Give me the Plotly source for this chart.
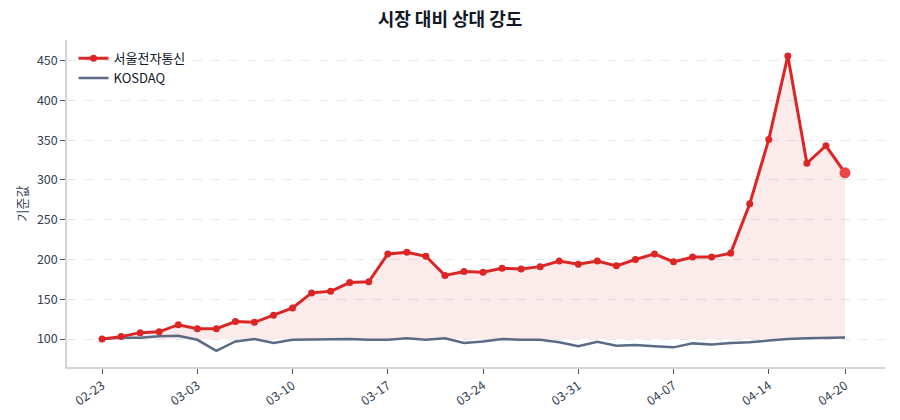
import plotly.graph_objects as go

dates = ["02-23","02-24","02-25","02-26","02-27","03-03","03-04","03-05","03-06","03-09",
         "03-10","03-11","03-12","03-13","03-16","03-17","03-18","03-19","03-20","03-23",
         "03-24","03-25","03-26","03-27","03-30","03-31","04-01","04-02","04-03","04-06",
         "04-07","04-08","04-09","04-10","04-13","04-14","04-15","04-16","04-17","04-20"]
stock = [100,103,108,109,118,113,113,122,121,130,
         139,158,160,171,172,207,209,204,180,185,
         184,189,188,191,198,194,198,192,200,207,
         197,203,203,208,270,351,456,321,343,309]
kosdaq = [100,101.5,101.5,103.5,104,99,85,97,100,95,
          99,99,99.6,100,99,99,101,99,101,95,
          97,100,99,99,96,91,96.5,91.5,92.4,91,
          89.5,94.5,93,95,96,98,100,101,101.7,102]
tick_labels = ["02-23","03-03","03-10","03-17","03-24","03-31","04-07","04-14","04-20"]
baseline = [100] * len(dates)

idx = list(range(len(dates)))
tickvals = [dates.index(t) for t in tick_labels]

RED = "#dc2626"
GREY = "#5b6b85"
FONT = "Noto Sans CJK KR"

fig = go.Figure()
fig.add_trace(go.Scatter(x=idx, y=baseline, mode="lines", line=dict(width=0),
                         showlegend=False, hoverinfo="skip"))
fig.add_trace(go.Scatter(x=idx, y=stock, mode="lines", line=dict(width=1, color="rgba(220,38,38,0.08)"),
                         fill="tonexty", fillcolor="rgba(220,38,38,0.09)",
                         showlegend=False, hoverinfo="skip"))
fig.add_trace(go.Scatter(x=idx, y=kosdaq, mode="lines", name="KOSDAQ",
                         line=dict(color=GREY, width=2.5)))
fig.add_trace(go.Scatter(x=idx, y=stock, mode="lines+markers", name="서울전자통신",
                         line=dict(color=RED, width=3),
                         marker=dict(size=7, color=RED)))
fig.add_trace(go.Scatter(x=[idx[-1]], y=[stock[-1]], mode="markers", showlegend=False,
                         marker=dict(size=11, color="#ef4444")))

fig.update_layout(
    width=900, height=420,
    margin=dict(l=67, r=15, t=40, b=53),
    paper_bgcolor="white", plot_bgcolor="white",
    font=dict(family=FONT, size=12, color="#334155"),
    title=dict(text="<b>시장 대비 상대 강도</b>", x=0.5, xanchor="center", y=0.952, yanchor="middle",
               font=dict(size=18, color="#111827", family=FONT)),
    legend=dict(x=0.008, y=0.99, xanchor="left", yanchor="top", bgcolor="rgba(255,255,255,0)",
                font=dict(size=13, color="#111827"), traceorder="reversed", tracegroupgap=0),
    showlegend=True,
)
fig.update_xaxes(range=[-1.84, 41.1], tickmode="array", tickvals=tickvals, ticktext=tick_labels,
                 tickangle=-35, showgrid=False, zeroline=False,
                 showline=True, linecolor="#d1d5db", linewidth=1.5,
                 ticks="outside", ticklen=5, tickcolor="#555", tickfont=dict(size=12.5, color="#334155"))
fig.update_yaxes(range=[64.8, 476], tickvals=[100,150,200,250,300,350,400,450],
                 showgrid=True, gridcolor="#e5e7eb", griddash="dash", gridwidth=1, zeroline=False,
                 showline=True, linecolor="#d1d5db", linewidth=1.5,
                 ticks="outside", ticklen=5, tickcolor="#555", tickfont=dict(size=12.5, color="#334155"),
                 title=dict(text="기준값", font=dict(size=13, color="#334155"), standoff=6))

fig.write_html("out.html")
